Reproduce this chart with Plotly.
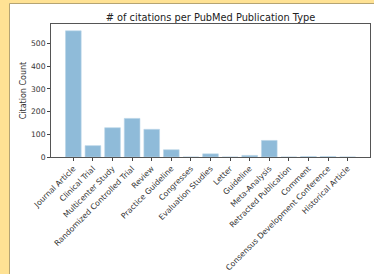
import plotly.graph_objects as go

categories = ["Journal Article", "Clinical Trial", "Multicenter Study",
              "Randomized Controlled Trial", "Review", "Practice Guideline",
              "Congresses", "Evaluation Studies", "Letter", "Guideline",
              "Meta-Analysis", "Retracted Publication", "Comment",
              "Consensus Development Conference", "Historical Article"]
counts = [556, 50, 129, 170, 122, 32, 0, 14, 0, 7, 73, 0, 2, 2, 0]
y_ticks = [0, 100, 200, 300, 400, 500]

W, H = 374, 274
L, R, T, B = 51, 370, 24, 157
pw, ph = R - L, B - T

def px(x):
    return (x - L) / pw

def py(y):
    return (B - y) / ph

font = "DejaVu Sans"
fig = go.Figure(go.Bar(
    x=list(range(len(categories))), y=counts, width=0.8,
    marker=dict(color="#8fbbd9", line=dict(color="#b9d5e8", width=0.6)),
))

fig.update_layout(
    width=W, height=H, autosize=False,
    margin=dict(l=L, r=W - R, t=T, b=H - B, autoexpand=False),
    paper_bgcolor="#ffe294", plot_bgcolor="white",
    showlegend=False,
    font=dict(family=font, size=7.5, color="#333"),
    title=dict(text="# of citations per PubMed Publication Type",
               x=(L + R) / 2 / W, xanchor="center", y=1 - 17.5 / H, yanchor="middle",
               font=dict(size=9.8, color="#222", family=font)),
    xaxis=dict(range=[-1.14, 15.14], tickmode="array", automargin=False,
               tickvals=list(range(len(categories))), ticktext=categories,
               tickangle=-45, ticks="outside", ticklen=3, tickcolor="#444",
               showgrid=False, zeroline=False, showline=True, linecolor="#555",
               linewidth=1, mirror=True, tickfont=dict(size=7.8, color="#333")),
    yaxis=dict(range=[0, 586], tickmode="array", tickvals=y_ticks, automargin=False,
               ticks="outside", ticklen=3, tickcolor="#444",
               showgrid=False, zeroline=False, showline=True, linecolor="#555",
               linewidth=1, mirror=True, tickfont=dict(size=7.6, color="#333"),
               title=dict(text="Citation Count", standoff=3,
                          font=dict(size=8, color="#333"))),
    shapes=[
        dict(type="rect", xref="paper", yref="paper", layer="below",
             x0=px(9.5), x1=px(W + 5), y0=py(3.5), y1=py(H + 5),
             fillcolor="white", line=dict(color="#b5a473", width=1)),
    ],
)

post = (
    "document.documentElement.style.margin='0';"
    "document.body.style.margin='0';document.body.style.padding='0';"
    "document.body.style.overflow='hidden';"
    "var gd=document.getElementById('{plot_id}');"
    "gd.style.width='374px';gd.style.height='274px';"
    "Plotly.relayout(gd,{width:374,height:274});"
)

fig.write_html("out.html", config={"responsive": False, "displayModeBar": False},
               default_width="374px", default_height="274px", post_script=post)
